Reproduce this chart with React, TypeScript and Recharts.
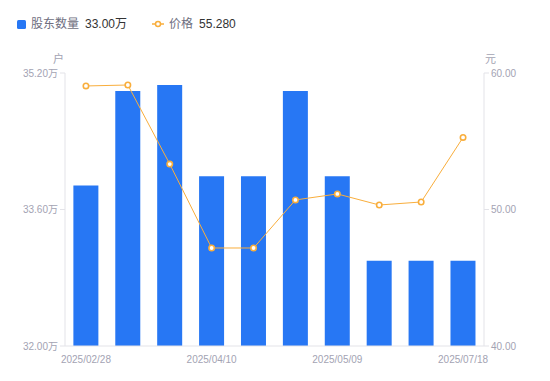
import React from "react";
import {
  ComposedChart,
  Bar,
  Line,
  XAxis,
  YAxis,
} from "recharts";

const dates = [
  "2025/02/28",
  "2025/03/10",
  "2025/03/31",
  "2025/04/10",
  "2025/04/18",
  "2025/04/30",
  "2025/05/09",
  "2025/06/10",
  "2025/06/30",
  "2025/07/18",
];
// 股东数量, 万户
const holders = [33.88, 34.99, 35.06, 33.99, 33.99, 34.99, 33.99, 33.0, 33.0, 33.0];
// 价格, 元
const prices = [59.05, 59.12, 53.33, 47.18, 47.18, 50.7, 51.14, 50.33, 50.55, 55.28];

const leftTicks = [32, 33.6, 35.2];
const rightTicks = [40, 50, 60];

const FONT = "'Liberation Sans', Arial, 'Noto Sans CJK SC', sans-serif";
const BLUE = "#2777f4";
const ORANGE = "#f9ae3c";
const AXIS = "#e3e3e8";
const TICK_TEXT = "#a3a3b3";

const data = dates.map((d, i) => ({ date: d, holders: holders[i], price: prices[i] }));

function HollowDot(props: any) {
  const { cx, cy } = props;
  if (cx == null || cy == null) return null;
  return <circle cx={cx} cy={cy} r={2.7} fill="#fff" stroke={ORANGE} strokeWidth={1.6} />;
}

export default function App() {
  const last = data[data.length - 1];
  return (
    <div
      style={{
        position: "absolute",
        left: 0,
        top: 0,
        width: 550,
        height: 381,
        background: "#fff",
        fontFamily: FONT,
      }}
    >
      {/* legend */}
      <div
        style={{
          position: "absolute",
          top: 16,
          left: 17,
          display: "flex",
          alignItems: "center",
          fontSize: 12,
          lineHeight: "16px",
        }}
      >
        <span style={{ width: 9, height: 9, background: BLUE, borderRadius: 1.5, display: "inline-block" }} />
        <span style={{ color: "#6e6e80", marginLeft: 5 }}>股东数量</span>
        <span style={{ color: "#333", marginLeft: 6 }}>{last.holders.toFixed(2)}万</span>
        <svg width={12} height={8} style={{ marginLeft: 25 }}>
          <line x1={0} y1={4} x2={12} y2={4} stroke={ORANGE} strokeWidth={1.5} />
          <circle cx={6} cy={4} r={2.5} fill="#fff" stroke={ORANGE} strokeWidth={1.5} />
        </svg>
        <span style={{ color: "#6e6e80", marginLeft: 5 }}>价格</span>
        <span style={{ color: "#333", marginLeft: 6 }}>{last.price.toFixed(3)}</span>
      </div>

      {/* axis units */}
      <div style={{ position: "absolute", left: 53, top: 50, fontSize: 11, color: TICK_TEXT }}>户</div>
      <div style={{ position: "absolute", left: 485, top: 50, fontSize: 11, color: TICK_TEXT }}>元</div>

      <ComposedChart
        width={550}
        height={381}
        data={data}
        margin={{ top: 73, right: 10, bottom: 15, left: 0 }}
        barCategoryGap="20%"
      >
        <XAxis
          dataKey="date"
          interval={2}
          tickLine={false}
          axisLine={{ stroke: AXIS }}
          tick={{ fontSize: 10, fill: TICK_TEXT, fontFamily: FONT }}
          tickMargin={4}
          height={20}
        />
        <YAxis
          yAxisId="left"
          orientation="left"
          width={65}
          domain={[32, 35.2]}
          ticks={leftTicks}
          interval={0}
          allowDataOverflow
          tickFormatter={(v: number) => `${v.toFixed(2)}万`}
          tick={{ fontSize: 10, fill: TICK_TEXT, fontFamily: FONT }}
          tickLine={{ stroke: AXIS }}
          tickSize={5}
          tickMargin={2}
          axisLine={{ stroke: AXIS }}
        />
        <YAxis
          yAxisId="right"
          orientation="right"
          width={56}
          domain={[40, 60]}
          ticks={rightTicks}
          interval={0}
          tickFormatter={(v: number) => v.toFixed(2)}
          tick={{ fontSize: 10, fill: TICK_TEXT, fontFamily: FONT }}
          tickLine={{ stroke: AXIS }}
          tickSize={5}
          tickMargin={2}
          axisLine={{ stroke: AXIS }}
        />
        <Bar yAxisId="left" dataKey="holders" fill={BLUE} isAnimationActive={false} />
        <Line
          yAxisId="right"
          dataKey="price"
          type="linear"
          stroke={ORANGE}
          strokeWidth={1}
          dot={<HollowDot />}
          activeDot={false}
          isAnimationActive={false}
        />
      </ComposedChart>
    </div>
  );
}
